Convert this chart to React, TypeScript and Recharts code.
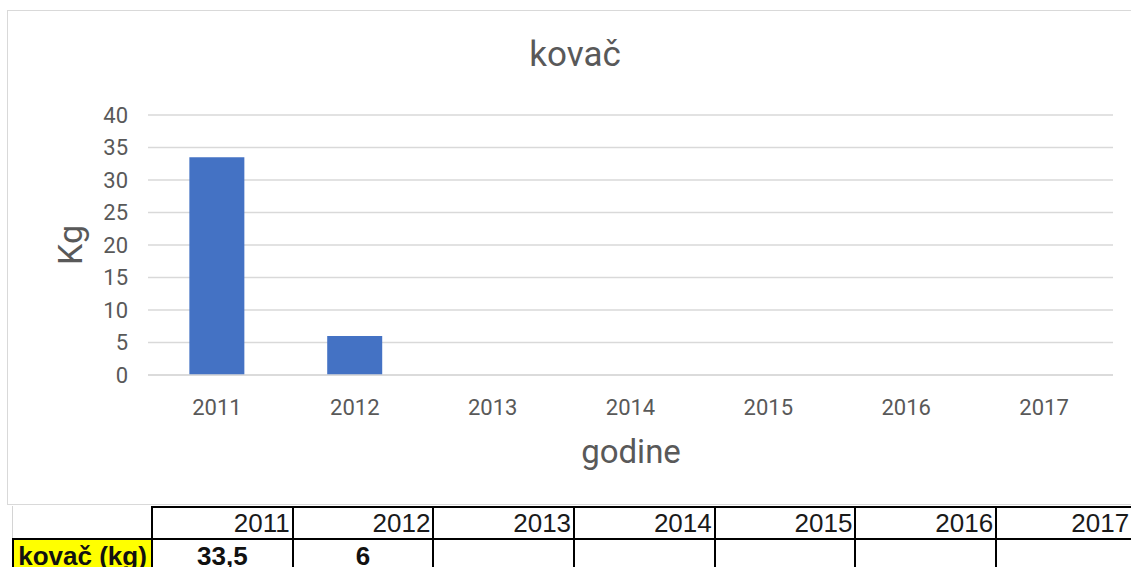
import React from 'react';
import { BarChart, Bar, XAxis, YAxis, CartesianGrid } from 'recharts';

const years = ['2011', '2012', '2013', '2014', '2015', '2016', '2017'];
const kovacKg: (number | null)[] = [33.5, 6, null, null, null, null, null];
const yTicks = [0, 5, 10, 15, 20, 25, 30, 35, 40];
const chartTitle = 'kovač';
const yTitle = 'Kg';
const xTitle = 'godine';
const rowLabel = 'kovač (kg)';

const data = years.map((y, i) => ({ year: y, kg: kovacKg[i] }));

const GRAY = '#595959';
const CHART_FONT = 'Roboto, "Noto Sans", sans-serif';
const TABLE_FONT = '"Liberation Sans", Arial, sans-serif';

const fmt = (v: number | null) => (v === null ? '' : String(v).replace('.', ','));

export default function App() {
  const colW = 140.7;
  const lastW = 136;
  return (
    <div
      style={{
        position: 'fixed',
        left: 0,
        top: 0,
        width: 1131,
        height: 567,
        overflow: 'hidden',
        background: '#fff',
      }}
    >
      {/* chart frame */}
      <div
        style={{
          position: 'absolute',
          left: 7,
          top: 10,
          width: 1136,
          height: 495,
          border: '1px solid #d9d9d9',
          boxSizing: 'border-box',
          background: '#fff',
        }}
      >
        <BarChart
          width={1134}
          height={493}
          data={data}
          margin={{ top: 104, right: 29, left: 0, bottom: 0 }}
          barCategoryGap="30%"
        >
          <CartesianGrid vertical={false} stroke="#d9d9d9" strokeWidth={1.5} />
          <XAxis
            dataKey="year"
            height={129}
            axisLine={{ stroke: '#d9d9d9', strokeWidth: 1.5 }}
            tickLine={false}
            tickMargin={18}
            tick={{ fill: GRAY, fontSize: 22, fontFamily: CHART_FONT }}
          />
          <YAxis
            width={140}
            domain={[0, 40]}
            ticks={yTicks}
            axisLine={false}
            tickLine={false}
            tickMargin={14}
            tick={{ fill: GRAY, fontSize: 22, fontFamily: CHART_FONT }}
          />
          <Bar dataKey="kg" fill="#4472C4" isAnimationActive={false} />
        </BarChart>
      </div>

      {/* chart title */}
      <div
        style={{
          position: 'absolute',
          left: 0,
          top: 37,
          width: 1150,
          textAlign: 'center',
          fontFamily: CHART_FONT,
          fontSize: 35,
          lineHeight: '35px',
          color: GRAY,
        }}
      >
        {chartTitle}
      </div>

      {/* x axis title */}
      <div
        style={{
          position: 'absolute',
          left: 431,
          top: 435,
          width: 400,
          textAlign: 'center',
          fontFamily: CHART_FONT,
          fontSize: 33,
          lineHeight: '33px',
          color: GRAY,
        }}
      >
        {xTitle}
      </div>

      {/* y axis title */}
      <div
        style={{
          position: 'absolute',
          left: 69.5 - 50,
          top: 245 - 20,
          width: 100,
          height: 40,
          textAlign: 'center',
          fontFamily: CHART_FONT,
          fontSize: 34,
          lineHeight: '40px',
          color: GRAY,
          transform: 'rotate(-90deg)',
          transformOrigin: '50% 50%',
        }}
      >
        {yTitle}
      </div>

      {/* data table */}
      <div style={{ position: 'absolute', left: 12, top: 506, fontFamily: TABLE_FONT }}>
        <div style={{ display: 'flex', height: 32 }}>
          <div
            style={{
              width: 141,
              height: 32,
              boxSizing: 'border-box',
              borderLeft: '1px solid #d4d4d4',
              borderRight: '2px solid #000',
              background: '#fff',
              flexShrink: 0,
            }}
          />
          {years.map((y, i) => (
            <div
              key={y}
              style={{
                width: i === years.length - 1 ? lastW : colW,
                height: 32,
                boxSizing: 'border-box',
                borderTop: '2px solid #000',
                borderRight: '2px solid #000',
                textAlign: 'right',
                paddingRight: 2,
                fontSize: 26,
                lineHeight: '30px',
                color: '#1a1a1a',
                flexShrink: 0,
              }}
            >
              {y}
            </div>
          ))}
        </div>
        <div style={{ display: 'flex', height: 40 }}>
          <div
            style={{
              width: 141,
              height: 40,
              boxSizing: 'border-box',
              borderTop: '2px solid #000',
              borderLeft: '2px solid #000',
              borderRight: '2px solid #000',
              background: '#ffff00',
              textAlign: 'center',
              fontWeight: 'bold',
              fontSize: 26,
              lineHeight: '30px',
              paddingTop: 1,
              color: '#111',
              whiteSpace: 'nowrap',
              flexShrink: 0,
            }}
          >
            {rowLabel}
          </div>
          {kovacKg.map((v, i) => (
            <div
              key={years[i]}
              style={{
                width: i === years.length - 1 ? lastW : colW,
                height: 40,
                boxSizing: 'border-box',
                borderTop: '2px solid #000',
                borderRight: '2px solid #000',
                textAlign: 'center',
                fontWeight: 'bold',
                fontSize: 26,
                lineHeight: '30px',
                paddingTop: 1,
                color: '#111',
                flexShrink: 0,
              }}
            >
              {fmt(v)}
            </div>
          ))}
        </div>
      </div>
    </div>
  );
}
